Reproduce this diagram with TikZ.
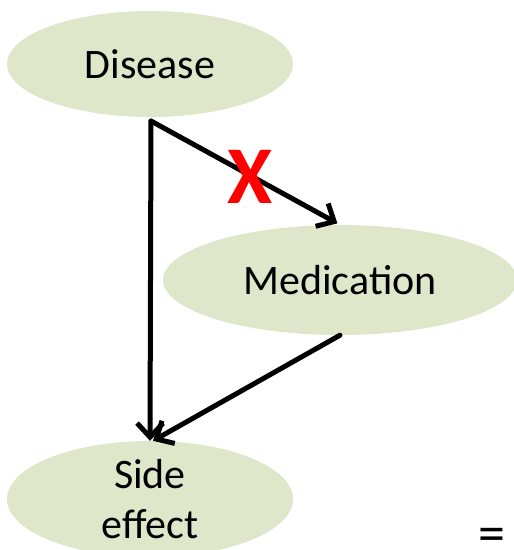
\documentclass[tikz,border=0pt]{standalone}
\usepackage{fontspec}
\setmainfont{Carlito}
\usetikzlibrary{shapes.geometric,arrows.meta}
\definecolor{nodefill}{RGB}{222,231,202}
\definecolor{crossred}{RGB}{255,0,0}
\tikzset{
  varnode/.style={ellipse, fill=nodefill, draw=none, inner sep=0pt,
    font=\fontsize{42}{50}\selectfont, align=center},
  causal/.style={line width=5pt, -{Straight Barb[length=14pt,width=26pt,line width=5pt]}},
}
\begin{document}
\begin{tikzpicture}[x=1pt,y=-1pt]
  \useasboundingbox (0,0) rectangle (514,550);
  \clip (0,0) rectangle (514,550);

  % variables
  \node[varnode, minimum width=286pt, minimum height=106pt] (dis) at (150,64) {Disease};
  \node[varnode, minimum width=354pt, minimum height=110pt] (med) at (340,280) {Medication};
  \node[varnode, minimum width=286pt, minimum height=116pt] (side) at (150,499) {Side\\[0pt]effect};

  % common start of the two edges leaving Disease
  \coordinate (fork) at (151,121);

  % edges
  \draw[causal, line cap=round] (fork) -- (side.north);
  \draw[causal, line cap=round, shorten >=3pt] (fork) -- (med.north);
  \draw[causal, line cap=round] (med.south) -- ([xshift=3pt]side.north);
  \draw[line width=5pt] (fork) -- ++(0,2);

  % removed edge mark
  \node[text=crossred, font=\fontsize{82}{82}\selectfont\bfseries, inner sep=0pt] (cross) at (250,177) {X};

  % trailing equals sign
  \node[font=\fontsize{54}{54}\selectfont, inner sep=0pt] (eq) at (492,540) {=};
\end{tikzpicture}
\end{document}
